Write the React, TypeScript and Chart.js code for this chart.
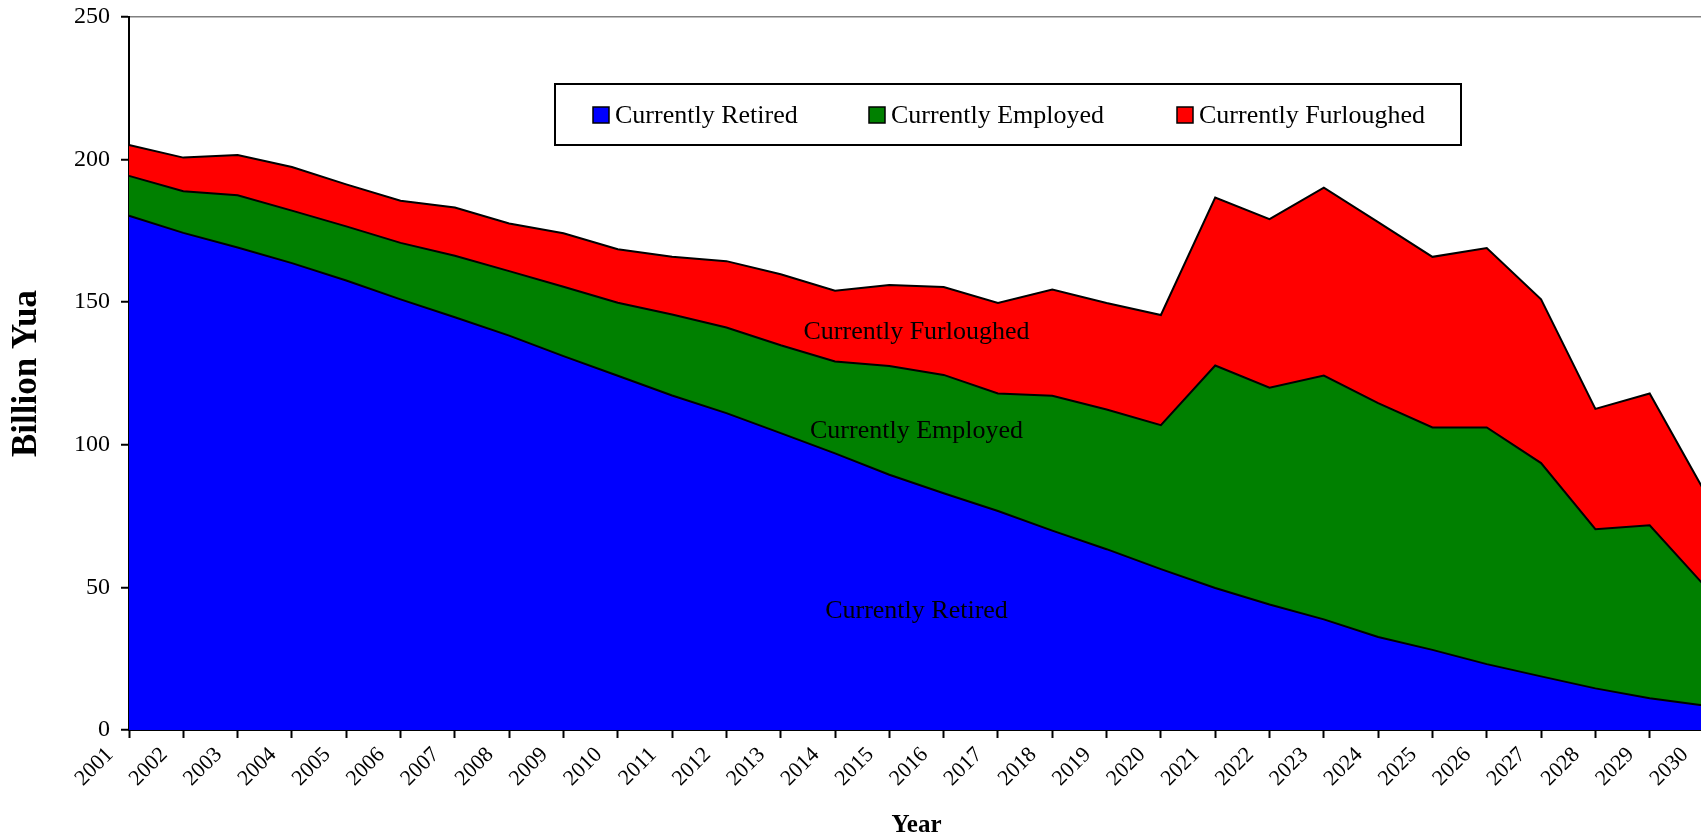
import React, { useEffect, useRef } from 'react';
import { Chart, registerables } from 'chart.js';

Chart.register(...registerables);

const YEARS = [
  '2001', '2002', '2003', '2004', '2005', '2006', '2007', '2008', '2009', '2010',
  '2011', '2012', '2013', '2014', '2015', '2016', '2017', '2018', '2019', '2020',
  '2021', '2022', '2023', '2024', '2025', '2026', '2027', '2028', '2029', '2030',
];

const RETIRED = [
  180.3, 174.3, 169.2, 163.7, 157.6, 151.0, 144.7, 138.3, 131.1, 124.2,
  117.3, 111.1, 104.1, 97.0, 89.5, 83.0, 76.8, 69.9, 63.4, 56.4,
  49.8, 44.0, 38.8, 32.6, 28.1, 23.1, 18.8, 14.6, 11.1, 8.6,
];

const EMPLOYED = [
  14.0, 14.6, 18.3, 18.4, 19.0, 19.8, 21.6, 22.6, 24.3, 25.6,
  28.4, 30.0, 30.8, 32.2, 38.1, 41.5, 41.2, 47.3, 49.0, 50.5,
  78.0, 76.0, 85.5, 82.0, 78.0, 83.0, 74.8, 55.8, 60.7, 42.2,
];

const FURLOUGHED = [
  10.8, 11.8, 14.1, 15.3, 14.7, 14.8, 16.9, 16.7, 18.8, 18.8,
  20.2, 23.3, 24.9, 24.8, 28.4, 30.8, 31.7, 37.2, 37.3, 38.6,
  58.9, 59.1, 65.9, 63.5, 59.8, 62.9, 57.4, 42.2, 46.2, 33.2,
];

const Y_TICKS = [0, 50, 100, 150, 200, 250];

const SERIES_NAMES = ['Currently Retired', 'Currently Employed', 'Currently Furloughed'];
const SERIES_COLORS = ['#0000FF', '#008000', '#FF0000'];

const X_TITLE = 'Year';
const Y_TITLE = 'Billion Yua';

const FONT = '"Liberation Serif", "Times New Roman", serif';

const legendBoxPlugin = {
  id: 'legendBox',
  afterDraw(chart: any) {
    const ctx = chart.ctx;
    ctx.save();
    ctx.fillStyle = '#ffffff';
    ctx.fillRect(555, 84, 906, 61);
    ctx.lineWidth = 2;
    ctx.strokeStyle = '#000000';
    ctx.strokeRect(555, 84, 906, 61);
    const starts = [593, 869, 1177];
    ctx.font = `26px ${FONT}`;
    ctx.textBaseline = 'middle';
    ctx.textAlign = 'left';
    SERIES_NAMES.forEach((name, i) => {
      const sx = starts[i];
      ctx.fillStyle = SERIES_COLORS[i];
      ctx.fillRect(sx, 107, 16, 16);
      ctx.lineWidth = 1.5;
      ctx.strokeStyle = '#000000';
      ctx.strokeRect(sx, 107, 16, 16);
      ctx.fillStyle = '#000000';
      ctx.fillText(name, sx + 22, 116);
    });
    ctx.restore();
  },
};

const seriesLabelPlugin = {
  id: 'seriesLabels',
  afterDatasetsDraw(chart: any) {
    const ctx = chart.ctx;
    const xs = chart.scales.x;
    const ys = chart.scales.y;
    const n = YEARS.length;
    const i0 = Math.floor((n - 1) / 2);
    const i1 = i0 + 1;
    const x = (xs.getPixelForValue(i0) + xs.getPixelForValue(i1)) / 2;
    const series = [RETIRED, EMPLOYED, FURLOUGHED];
    let base0 = 0;
    let base1 = 0;
    ctx.save();
    ctx.font = `26px ${FONT}`;
    ctx.fillStyle = '#000000';
    ctx.textAlign = 'center';
    ctx.textBaseline = 'top';
    series.forEach((s, k) => {
      const top0 = base0 + s[i0];
      const top1 = base1 + s[i1];
      const mid = ((base0 + base1) / 2 + (top0 + top1) / 2) / 2;
      ctx.fillText(SERIES_NAMES[k], x, ys.getPixelForValue(mid) - 9);
      base0 = top0;
      base1 = top1;
    });
    ctx.restore();
  },
};

export default function App() {
  const canvasRef = useRef<HTMLCanvasElement | null>(null);

  useEffect(() => {
    const canvas = canvasRef.current;
    if (!canvas) return;
    const seriesData = [RETIRED, EMPLOYED, FURLOUGHED];
    const chart = new Chart(canvas, {
      type: 'line',
      data: {
        labels: YEARS,
        datasets: seriesData.map((d, i) => ({
          label: SERIES_NAMES[i],
          data: d,
          backgroundColor: SERIES_COLORS[i],
          borderColor: '#000000',
          borderWidth: 2,
          fill: i === 0 ? 'origin' : '-1',
          pointRadius: 0,
          tension: 0,
        })),
      },
      options: {
        animation: false,
        responsive: false,
        maintainAspectRatio: false,
        devicePixelRatio: 1,
        layout: { padding: { top: 17, right: 56, left: 0, bottom: 0 } },
        plugins: {
          legend: { display: false },
          tooltip: { enabled: false },
        },
        scales: {
          x: {
            type: 'category',
            offset: false,
            grid: {
              drawOnChartArea: false,
              drawTicks: true,
              tickLength: 8,
              tickColor: '#000000',
              tickWidth: 2,
            },
            border: { display: true, color: '#000000', width: 2 },
            ticks: {
              autoSkip: false,
              minRotation: 45,
              maxRotation: 45,
              color: '#000000',
              font: { family: FONT, size: 22 },
              labelOffset: -19,
              padding: 4,
            },
            title: {
              display: true,
              text: X_TITLE,
              color: '#000000',
              font: { family: FONT, size: 25, weight: 'bold', lineHeight: 0.7 },
              padding: 0,
            },
            afterFit: (scale: any) => {
              scale.height = 104;
              scale.paddingLeft = 0;
              scale.paddingRight = 0;
            },
          } as any,
          y: {
            stacked: true,
            min: Y_TICKS[0],
            max: Y_TICKS[Y_TICKS.length - 1],
            ticks: {
              stepSize: Y_TICKS[1] - Y_TICKS[0],
              color: '#000000',
              font: { family: FONT, size: 24 },
              padding: 11,
            },
            grid: {
              drawOnChartArea: true,
              tickLength: 8,
              tickColor: '#000000',
              tickWidth: 2,
              lineWidth: 1.5,
              color: (c: any) =>
                c.tick && c.tick.value === Y_TICKS[Y_TICKS.length - 1] ? '#808080' : 'rgba(0,0,0,0)',
            },
            border: { display: true, color: '#000000', width: 2 },
            title: {
              display: true,
              text: Y_TITLE,
              color: '#000000',
              font: { family: FONT, size: 35, weight: 'bold', lineHeight: 1 },
              padding: 9,
            },
            afterFit: (scale: any) => {
              scale.width = 129;
              scale.paddingTop = 0;
              scale.paddingBottom = 0;
            },
          } as any,
        },
      },
      plugins: [seriesLabelPlugin, legendBoxPlugin],
    });
    return () => {
      chart.destroy();
    };
  }, []);

  return (
    <div
      style={{
        position: 'fixed',
        left: 0,
        top: 0,
        width: 1701,
        height: 834,
        overflow: 'hidden',
        background: '#ffffff',
      }}
    >
      <canvas ref={canvasRef} width={1760} height={834} style={{ display: 'block' }} />
    </div>
  );
}
